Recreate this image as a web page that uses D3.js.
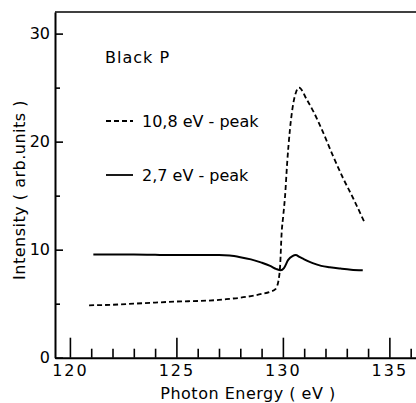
<!DOCTYPE html>
<html>
<head>
<meta charset="utf-8">
<script src="https://cdn.jsdelivr.net/npm/d3@7"></script>
<style>
  html, body { margin: 0; padding: 0; background: #fff; }
  svg { display: block; }
  text { font-family: "DejaVu Sans", sans-serif; fill: #000; }
</style>
</head>
<body>
<svg id="chart" width="416" height="403"></svg>
<script>
// Photon energy (eV) and intensity (arb. units) for the two emission peaks of black P
const peak108X = [120.9, 122, 123, 124, 125, 126, 127, 127.5, 128, 128.5, 129, 129.4, 129.65, 129.8, 129.87, 129.94, 130.02, 130.1, 130.2, 130.33, 130.49, 130.62, 130.76, 131.12, 131.43, 131.9, 132.37, 132.83, 133.3, 133.85];
const peak108Y = [4.85, 4.9, 5.0, 5.1, 5.2, 5.25, 5.35, 5.45, 5.55, 5.7, 5.9, 6.1, 6.35, 7.2, 8.5, 11.5, 13.2, 14.9, 18.0, 21.1, 23.55, 24.6, 25.0, 23.9, 22.8, 20.8, 18.6, 16.6, 14.76, 12.45];

const peak27X = [121.1, 122, 123, 124, 125, 126, 127, 127.5, 128, 128.5, 129, 129.4, 129.7, 129.9, 130.05, 130.25, 130.45, 130.6, 130.8, 131.0, 131.4, 131.8, 132.2, 132.7, 133.2, 133.75];
const peak27Y = [9.55, 9.55, 9.55, 9.52, 9.5, 9.5, 9.5, 9.45, 9.3, 9.1, 8.8, 8.5, 8.2, 8.1, 8.3, 9.05, 9.4, 9.5, 9.3, 9.1, 8.75, 8.5, 8.37, 8.25, 8.15, 8.1];

const xMajorTicks = [120, 125, 130, 135];
const xMinorTicks = [121, 122, 123, 124, 126, 127, 128, 129, 131, 132, 133, 134, 136];
const yMajorTicks = [0, 10, 20, 30];
const yMinorTicks = [5, 15, 25];

const legendItems = ["10,8 eV - peak", "2,7 eV - peak"];

const svg = d3.select("#chart");

const x = d3.scaleLinear().domain([119.3, 136.25]).range([55, 416]);
const y = d3.scaleLinear().domain([0, 32]).range([357.7, 12]);

// frame: top border
svg.append("line")
  .attr("x1", x.range()[0]).attr("x2", x.range()[1])
  .attr("y1", y(32)).attr("y2", y(32))
  .attr("stroke", "#000").attr("stroke-width", 1.6);

// x axis, ticks pointing inward
const gx = svg.append("g").attr("transform", `translate(0,${y(0)})`);
gx.call(d3.axisBottom(x).tickValues(xMajorTicks).tickSizeInner(-20).tickSizeOuter(0).tickPadding(7).tickFormat(d3.format("d")));
const gxMinor = svg.append("g").attr("transform", `translate(0,${y(0)})`);
gxMinor.call(d3.axisBottom(x).tickValues(xMinorTicks).tickSizeInner(-9).tickSizeOuter(0).tickFormat(""));
gxMinor.select(".domain").remove();

// y axis, ticks pointing inward
const gy = svg.append("g").attr("transform", `translate(${x.range()[0]},0)`);
gy.call(d3.axisLeft(y).tickValues(yMajorTicks).tickSizeInner(-8).tickSizeOuter(0).tickPadding(5).tickFormat(d3.format("d")));
const gyMinor = svg.append("g").attr("transform", `translate(${x.range()[0]},0)`);
gyMinor.call(d3.axisLeft(y).tickValues(yMinorTicks).tickSizeInner(-5).tickSizeOuter(0).tickFormat(""));
gyMinor.select(".domain").remove();

svg.selectAll(".domain").attr("stroke", "#000").attr("stroke-width", 2);
svg.selectAll(".tick line").attr("stroke", "#000").attr("stroke-width", 1.6);
gx.selectAll(".tick text").attr("font-size", 16).attr("letter-spacing", 2).attr("font-family", "DejaVu Sans");
gy.selectAll(".tick text").attr("font-size", 16).attr("font-family", "DejaVu Sans");

// axis titles
svg.append("text")
  .attr("x", 248).attr("y", 399)
  .attr("text-anchor", "middle")
  .attr("font-size", 16).attr("letter-spacing", 0.5)
  .text("Photon Energy ( eV )");

svg.append("text")
  .attr("transform", "translate(25,190) rotate(-90)")
  .attr("text-anchor", "middle")
  .attr("font-size", 16).attr("letter-spacing", 0.5)
  .text("Intensity ( arb.units )");

// curves
const line = d3.line().x(d => x(d[0])).y(d => y(d[1])).curve(d3.curveMonotoneX);

svg.append("path")
  .datum(d3.zip(peak108X, peak108Y))
  .attr("d", line)
  .attr("fill", "none").attr("stroke", "#000").attr("stroke-width", 1.8)
  .attr("stroke-dasharray", "5,3");

svg.append("path")
  .datum(d3.zip(peak27X, peak27Y))
  .attr("d", line)
  .attr("fill", "none").attr("stroke", "#000").attr("stroke-width", 2);

// legend
svg.append("text")
  .attr("x", 105).attr("y", 63)
  .attr("font-size", 16).attr("letter-spacing", 1)
  .text("Black  P");

const legendY = [121, 175];
const legendDash = ["5,3", null];
legendItems.forEach((label, i) => {
  svg.append("line")
    .attr("x1", 106).attr("x2", 133)
    .attr("y1", legendY[i]).attr("y2", legendY[i])
    .attr("stroke", "#000").attr("stroke-width", 1.8)
    .attr("stroke-dasharray", legendDash[i]);
  svg.append("text")
    .attr("x", 142).attr("y", legendY[i])
    .attr("dy", "0.35em")
    .attr("font-size", 16)
    .text(label);
});
</script>
</body>
</html>
